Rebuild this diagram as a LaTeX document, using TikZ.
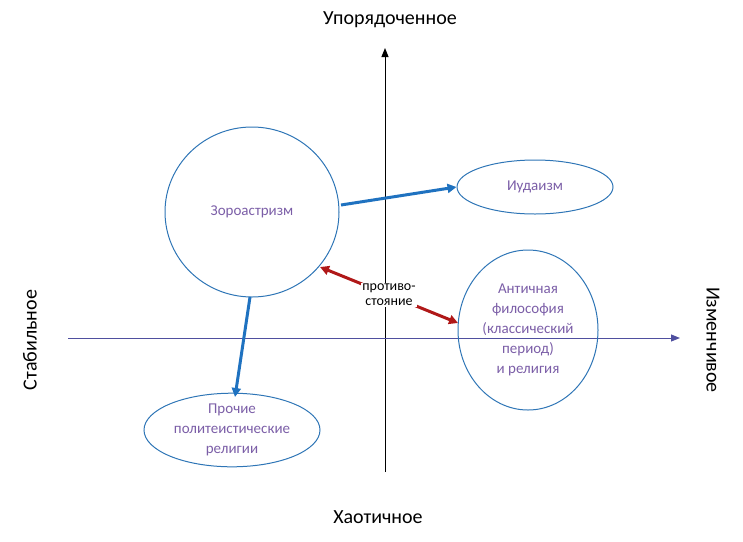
\documentclass[tikz,border=0pt]{standalone}
\usepackage{fontspec}
\setmainfont{Carlito}
\usepackage{tikz}
\usetikzlibrary{arrows.meta,shapes.geometric}
\definecolor{edgeblue}{HTML}{2E75B6}
\definecolor{arrblue}{HTML}{1F72C0}
\definecolor{txtpurple}{HTML}{7B5EA7}
\definecolor{axisnavy}{HTML}{4F4F9F}
\definecolor{oppred}{HTML}{B01818}
\tikzset{
  religion/.style={ellipse,draw=edgeblue,line width=1pt,text=txtpurple,align=center,font=\fontsize{15pt}{20pt}\selectfont,inner sep=0pt},
  axislabel/.style={font=\fontsize{20pt}{22pt}\selectfont},
  influence/.style={arrblue,line width=3pt,-{Triangle[length=9pt,width=9pt]}},
}
\begin{document}
\begin{tikzpicture}[x=1pt,y=-1pt]
                \useasboundingbox (0,0) rectangle (743,541);
                % axes
                \coordinate (vbot) at (385,472);
                \coordinate (vtop) at (385,48);
                \coordinate (hleft) at (68,338);
                \coordinate (hright) at (680,338);
                \draw[line width=1pt,-{Triangle[length=9pt,width=7pt]}] (vbot) -- (vtop);
                \draw[axisnavy,line width=1pt,-{Triangle[length=9pt,width=7pt]}] (hleft) -- (hright);

                \node[axislabel] (ordered) at (390,20) {Упорядоченное};
                \node[axislabel] (chaotic) at (378,517) {Хаотичное};
                \node[axislabel,rotate=90] (stable) at (30,340) {Стабильное};
                \node[axislabel,rotate=-90] (changing) at (713,340) {Изменчивое};

                % religions
                \node[religion,minimum width=174pt,minimum height=170pt] (zoro) at (252,212) {Зороастризм};
                \node[religion,minimum width=156pt,minimum height=54pt] (jud) at (535,187) {Иудаизм};
                \node[religion,minimum width=140pt,minimum height=160pt] (antic) at (528,330) {Античная\\философия\\(классический\\период)\\и религия};
                \node[religion,minimum width=176pt,minimum height=68pt] (poly) at (232,430) {Прочие\\политеистические\\религии};

                \draw[influence] (341,205) -- (jud.west);
                \draw[influence] (250,297) -- (235,397);
                \draw[oppred,line width=3pt,{Triangle[length=9pt,width=9pt]}-{Triangle[length=9pt,width=9pt]}] (320,267) -- node[fill=white,text=black,inner sep=1pt,align=center,font=\fontsize{14pt}{15pt}\selectfont] (opp) {противо-\\стояние} (458,323);
\end{tikzpicture}
\end{document}
